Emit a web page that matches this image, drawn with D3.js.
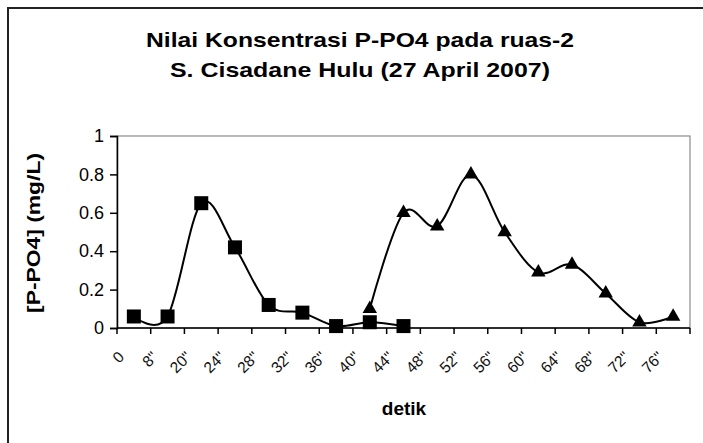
<!DOCTYPE html>
<html>
<head>
<meta charset="utf-8">
<script src="https://cdn.jsdelivr.net/npm/d3@7"></script>
<style>
  body { margin: 0; background: #fff; }
  svg { display: block; font-family: "Liberation Sans", Arial, sans-serif; }
</style>
</head>
<body>
<svg id="chart" width="703" height="443"></svg>
<script>
// categories on the x axis (seconds)
var categories = ["0", "8\"", "20\"", "24\"", "28\"", "32\"", "36\"", "40\"", "44\"",
                  "48\"", "52\"", "56\"", "60\"", "64\"", "68\"", "72\"", "76\""];
// series 1 (squares) starts at category 0
var seriesSquare = [0.06, 0.06, 0.65, 0.42, 0.12, 0.08, 0.01, 0.03, 0.01];
// series 2 (triangles) starts at category 7
var triangleStart = 7;
var seriesTriangle = [0.10, 0.60, 0.53, 0.80, 0.50, 0.29, 0.33, 0.18, 0.03, 0.06];
var yTicks = [0, 0.2, 0.4, 0.6, 0.8, 1];

var svg = d3.select("#chart");
var margin = {left: 117, top: 136, right: 13, bottom: 115};
var W = 703, H = 443;

// outer frame (right/bottom edge run off the picture)
svg.append("rect").attr("x", 8).attr("y", 8).attr("width", 720).attr("height", 460)
  .attr("fill", "none").attr("stroke", "#222").attr("stroke-width", 2);

// title
var title = svg.append("text").attr("text-anchor", "middle")
  .attr("font-weight", "bold").attr("font-size", 21).attr("fill", "#000");
title.append("tspan").attr("x", 360).attr("y", 47)
  .attr("textLength", 428).attr("lengthAdjust", "spacingAndGlyphs")
  .text("Nilai Konsentrasi P-PO4 pada ruas-2");
title.append("tspan").attr("x", 360).attr("y", 77)
  .attr("textLength", 380).attr("lengthAdjust", "spacingAndGlyphs")
  .text("S. Cisadane Hulu (27 April 2007)");

var x = d3.scaleBand().domain(d3.range(categories.length))
  .range([margin.left, W - margin.right]).padding(0);
var y = d3.scaleLinear().domain([0, 1]).range([H - margin.bottom, margin.top]);

// plot area border (gray)
svg.append("rect")
  .attr("x", margin.left).attr("y", margin.top)
  .attr("width", W - margin.right - margin.left)
  .attr("height", H - margin.bottom - margin.top)
  .attr("fill", "none").attr("stroke", "#8a8a8a").attr("stroke-width", 1.2);

// y axis
var yAxis = svg.append("g").attr("transform", "translate(" + margin.left + ",0)")
  .call(d3.axisLeft(y).tickValues(yTicks).tickSize(7).tickPadding(6)
    .tickFormat(function (d) { return d3.format("~g")(d); }));
yAxis.select(".domain").attr("stroke", "#000").attr("stroke-width", 1.5);
yAxis.selectAll(".tick line").attr("stroke", "#000").attr("stroke-width", 1.5);
yAxis.selectAll(".tick text").attr("font-size", 18).attr("fill", "#000")
  .attr("font-family", "Liberation Sans, Arial, sans-serif");

// x axis: tick marks at band edges, labels near the left edge of each band
var edges = d3.range(categories.length + 1);
var xg = svg.append("g");
xg.append("line")
  .attr("x1", margin.left).attr("x2", W - margin.right)
  .attr("y1", y(0)).attr("y2", y(0))
  .attr("stroke", "#000").attr("stroke-width", 1.5);
xg.selectAll(".xt").data(edges).enter().append("line")
  .attr("x1", function (d) { return margin.left + d * x.bandwidth(); })
  .attr("x2", function (d) { return margin.left + d * x.bandwidth(); })
  .attr("y1", y(0)).attr("y2", y(0) + 6)
  .attr("stroke", "#000").attr("stroke-width", 1.5);
xg.selectAll(".xl").data(categories).enter().append("text")
  .attr("text-anchor", "end").attr("font-size", 15.5).attr("fill", "#111")
  .attr("transform", function (d, i) {
    return "translate(" + (x(i) + 8) + "," + (y(0) + 30) + ") rotate(-45)";
  })
  .text(function (d) { return d; });

// axis titles
svg.append("text").attr("text-anchor", "middle").attr("font-weight", "bold")
  .attr("font-size", 19).attr("x", 404).attr("y", 415).text("detik");
svg.append("text").attr("text-anchor", "middle").attr("font-weight", "bold")
  .attr("font-size", 19)
  .attr("transform", "translate(40,233) rotate(-90)")
  .attr("textLength", 160).attr("lengthAdjust", "spacingAndGlyphs")
  .text("[P-PO4] (mg/L)");

// lines
var cx = function (i) { return x(i) + x.bandwidth() / 2; };
var line = d3.line()
  .x(function (d) { return cx(d.i); })
  .y(function (d) { return y(d.v); })
  .curve(d3.curveCatmullRom.alpha(0));

var sq = seriesSquare.map(function (v, i) { return {i: i, v: v}; });
var tr = seriesTriangle.map(function (v, i) { return {i: i + triangleStart, v: v}; });

svg.append("path").datum(sq).attr("d", line)
  .attr("fill", "none").attr("stroke", "#000").attr("stroke-width", 2);
svg.append("path").datum(tr).attr("d", line)
  .attr("fill", "none").attr("stroke", "#000").attr("stroke-width", 2);

// markers
svg.selectAll(".sq").data(sq).enter().append("rect")
  .attr("x", function (d) { return cx(d.i) - 7; })
  .attr("y", function (d) { return y(d.v) - 7; })
  .attr("width", 14).attr("height", 14).attr("fill", "#000");

var tri = d3.symbol().type(d3.symbolTriangle).size(90);
svg.selectAll(".tr").data(tr).enter().append("path")
  .attr("d", tri)
  .attr("transform", function (d) { return "translate(" + cx(d.i) + "," + y(d.v) + ")"; })
  .attr("fill", "#000");
</script>
</body>
</html>
